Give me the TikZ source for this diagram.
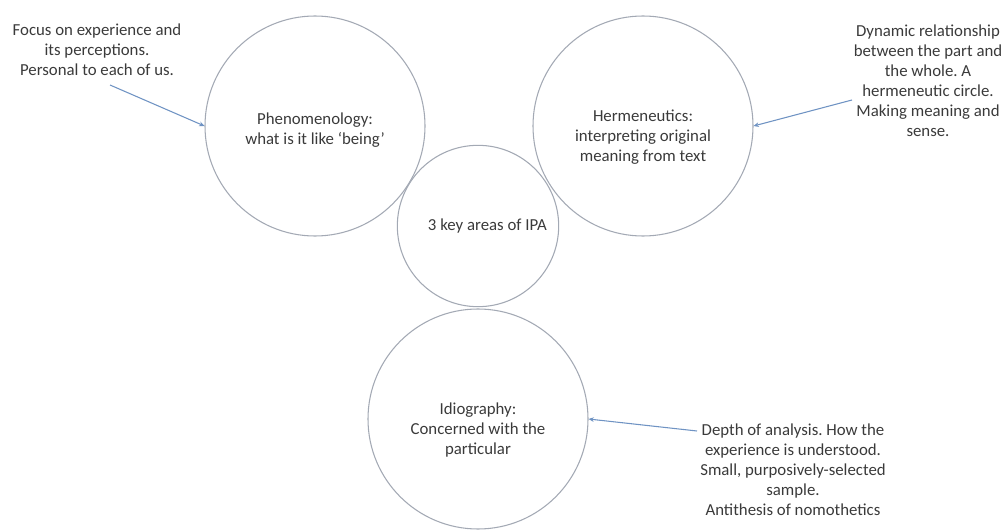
\documentclass[tikz,border=0pt]{standalone}
\usepackage{fontspec}
\setmainfont{Carlito}
\usetikzlibrary{arrows.meta}
\frenchspacing
\definecolor{ringcol}{HTML}{A3A9B4}
\definecolor{arrcol}{HTML}{6F93C3}
\definecolor{txtcol}{HTML}{3A3A3A}
\tikzset{
  ring/.style={circle, draw=ringcol, line width=0.8pt, inner sep=0pt, align=center, text=txtcol, font=\fontsize{12.6}{15}\selectfont},
  note/.style={align=center, text=txtcol, inner sep=0pt, font=\fontsize{12.6}{15}\selectfont},
  arr/.style={draw=arrcol, line width=0.8pt, -{Stealth[length=4pt,width=3.5pt]}}
}
\begin{document}
\begin{tikzpicture}[x=0.75pt, y=-0.75pt]
\useasboundingbox (0,0) rectangle (1007,531);
\node[ring, minimum size=165pt] (c1) at (315,126) {\rule{0pt}{15pt}Phenomenology:\\what is it like `being'};
\node[ring, minimum size=165pt] (c2) at (643,126) {\rule{0pt}{25.5pt}Hermeneutics:\\interpreting original\\meaning from text};
\node[ring, minimum size=121pt] (c3) at (478,226) {\hspace*{14pt}3 key areas of IPA};
\node[ring, minimum size=165pt] (c4) at (478,419) {\rule{0pt}{26pt}Idiography:\\Concerned with the\\particular};
\node[note] (t1) at (97,50) {Focus on experience and\\its perceptions.\\Personal to each of us.};
\node[note] (t2) at (928,81) {Dynamic relationship\\between the part and\\the whole. A\\hermeneutic circle.\\Making meaning and\\sense.};
\node[note] (t3) at (793,470) {Depth of analysis. How the\\experience is understood.\\Small, purposively-selected\\sample.\\Antithesis of nomothetics};
\coordinate (s1) at (110,85);
\coordinate (s2) at (852,100);
\coordinate (s3) at (697,431);
\draw[arr] (s1) -- (c1.west);
\draw[arr] (s2) -- (c2.east);
\draw[arr] (s3) -- (c4.east);
\end{tikzpicture}
\end{document}
